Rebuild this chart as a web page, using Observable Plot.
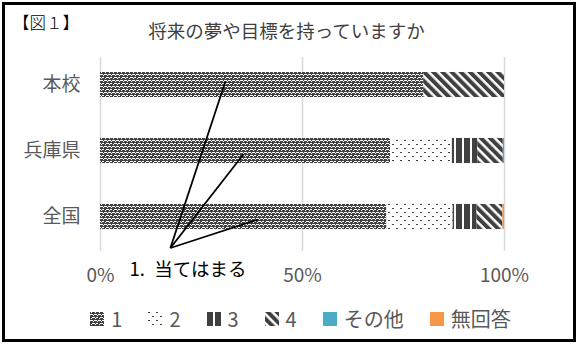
<!DOCTYPE html>
<html><head><meta charset="utf-8">
<script src="https://cdn.jsdelivr.net/npm/d3@7"></script>
<script src="https://cdn.jsdelivr.net/npm/@observablehq/plot@0.6"></script>
<style>
body{margin:0;background:#fff;}
#wrap{position:relative;width:581px;height:345px;font-family:"Noto Sans CJK JP","Noto Sans",sans-serif;overflow:hidden;background:#fff;}
#frame{position:absolute;left:2px;top:2px;width:574px;height:340px;border:3px solid #000;box-sizing:border-box;pointer-events:none;}
#fig{position:absolute;left:13px;top:12px;font-size:16.5px;line-height:20px;color:#000;font-weight:300;}
#title{position:absolute;left:-4px;width:581px;top:20px;text-align:center;font-size:18.5px;line-height:20px;color:#404040;}
#chart{position:absolute;left:0;top:0;}
#legend{position:absolute;top:307px;left:10px;width:581px;display:flex;justify-content:center;align-items:center;font-size:20px;line-height:24px;color:#595959;}
.item{display:flex;align-items:center;margin:0 13px;}
.item svg{margin-right:7px;}
</style></head>
<body>
<svg width="0" height="0" style="position:absolute">
  <defs>
    <pattern id="p1" width="8" height="6" patternUnits="userSpaceOnUse">
      <rect width="8" height="6" fill="#404040"/>
      <rect x="1" y="0" width="1" height="1" fill="#fff"/>
      <rect x="5" y="0" width="1" height="1" fill="#fff"/>
      <rect x="0" y="2" width="3" height="1" fill="#fff"/>
      <rect x="4" y="2" width="3" height="1" fill="#fff"/>
      <rect x="3" y="3" width="1" height="1" fill="#fff"/>
      <rect x="7" y="3" width="1" height="1" fill="#fff"/>
      <rect x="2" y="5" width="3" height="1" fill="#fff"/>
      <rect x="6" y="5" width="2" height="1" fill="#fff"/>
    </pattern>
    <pattern id="p2" width="8" height="8" patternUnits="userSpaceOnUse">
      <rect width="8" height="8" fill="#fff"/>
      <rect x="0" y="0" width="2" height="1" fill="#404040"/>
      <rect x="4" y="4" width="2" height="1" fill="#404040"/>
    </pattern>
    <pattern id="p3" width="8" height="8" patternUnits="userSpaceOnUse">
      <rect width="8" height="8" fill="#fff"/>
      <rect x="0" y="0" width="6" height="8" fill="#404040"/>
    </pattern>
    <pattern id="p4" width="6.5" height="6.5" patternUnits="userSpaceOnUse" patternTransform="rotate(-45)">
      <rect width="6.5" height="6.5" fill="#fff"/>
      <rect x="0" y="0" width="4" height="6.5" fill="#404040"/>
    </pattern>
  </defs>
</svg>
<div id="wrap">
  <div id="chart"></div>
  <div id="fig">【図１】</div>
  <div id="title">将来の夢や目標を持っていますか</div>
  <div id="legend"></div>
  <div id="frame"></div>
</div>
<script>
// ---- data ----
const categories = ["本校", "兵庫県", "全国"];
const series = ["1", "2", "3", "4", "その他", "無回答"];
const values1 = [80.0, 71.8, 70.9];
const values2 = [0.0, 15.3, 16.4];
const values3 = [0.0, 6.3, 5.9];
const values4 = [20.0, 6.3, 6.4];
const valuesOther = [0.0, 0.3, 0.0];
const valuesNoAnswer = [0.0, 0.0, 0.4];
const xTicks = [0, 50, 100];
const seriesFills = ["url(#p1)", "url(#p2)", "url(#p3)", "url(#p4)", "#4BACC6", "#F79646"];
const annotationLabel = "1.\u2002当てはまる";
// callout: from apex (below axis) to a point in each bar
const calloutApex = {x: 17.3, y: 2.47};
const calloutTargetX = [30.9, 35.4, 38.9];
const calloutTargetY = [-0.05, 1.05, 2.04];

// ---- build stacked table ----
const seriesValues = [values1, values2, values3, values4, valuesOther, valuesNoAnswer];
const half = 0.19;
const rows = [];
categories.forEach((c, i) => {
  let acc = 0;
  series.forEach((s, k) => {
    const v = seriesValues[k][i];
    rows.push({category: c, idx: i, series: s, x1: acc, x2: acc + v});
    acc += v;
  });
});
const callouts = categories.map((c, i) => ({
  x1: calloutApex.x, y1: calloutApex.y, x2: calloutTargetX[i], y2: calloutTargetY[i]
}));

const chart = Plot.plot({
  width: 581,
  height: 345,
  marginLeft: 100,
  marginRight: 77,
  marginTop: 57,
  marginBottom: 94,
  style: {fontFamily: '"Noto Sans CJK JP", sans-serif', fontSize: "19px", color: "#595959", background: "transparent", overflow: "visible"},
  x: {domain: [0, 100], ticks: xTicks, tickFormat: d => d + "%", tickSize: 0, tickPadding: 17, label: null},
  y: {type: "linear", domain: [-0.417, 2.523], reverse: true, ticks: [0, 1, 2], tickFormat: d => categories[d], tickSize: 0, tickPadding: 20, label: null},
  color: {domain: series, range: seriesFills},
  marks: [
    Plot.ruleX(xTicks, {stroke: "#d9d9d9", strokeWidth: 1.5}),
    Plot.rect(rows, {x1: "x1", x2: "x2", y1: d => d.idx - half, y2: d => d.idx + half, fill: "series"}),
    Plot.link(callouts, {x1: "x1", y1: "y1", x2: "x2", y2: "y2", stroke: "#000", strokeWidth: 1.8}),
    Plot.text([annotationLabel], {x: 7.2, y: 2.81, text: d => d, textAnchor: "start", fill: "#000", fontSize: 18.5})
  ]
});
document.getElementById("chart").appendChild(chart);

// ---- legend ----
const legend = document.getElementById("legend");
series.forEach((s, k) => {
  const item = document.createElement("div");
  item.className = "item";
  item.innerHTML = `<svg width="14" height="14"><rect width="14" height="14" fill="${seriesFills[k]}"/></svg><span>${s}</span>`;
  legend.appendChild(item);
});
</script>
</body></html>
